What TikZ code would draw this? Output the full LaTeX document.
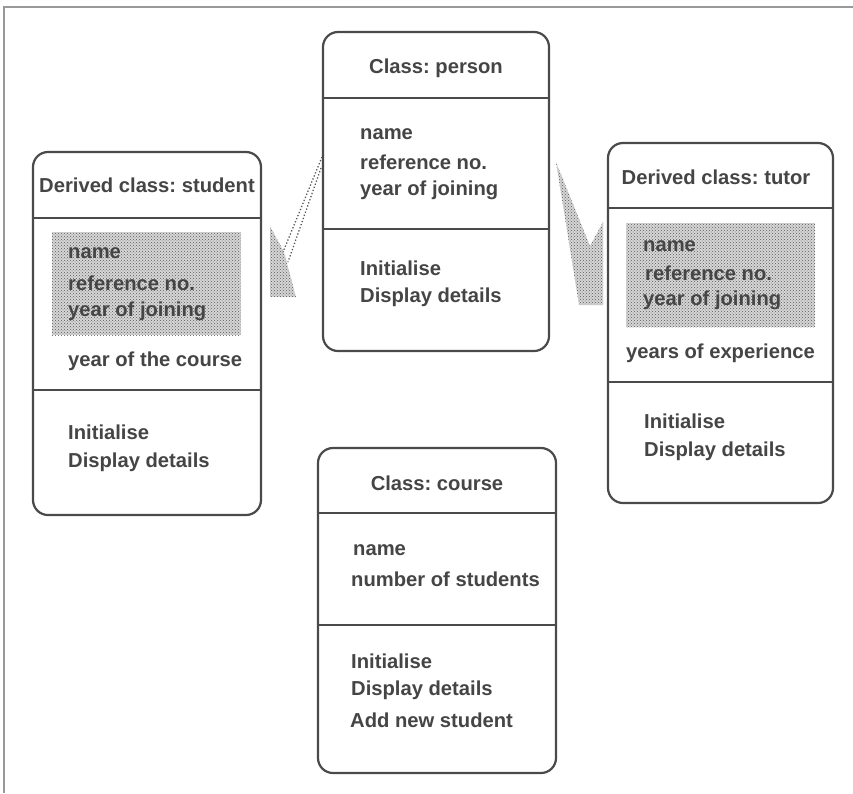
\documentclass[tikz,border=0pt]{standalone}
\usepackage{fontspec}
\setmainfont{Liberation Sans}
\usetikzlibrary{patterns}
\definecolor{ink}{HTML}{4A4A4A}
\definecolor{txt}{HTML}{454545}
\frenchspacing
\begin{document}
\begin{tikzpicture}[x=1pt,y=-1pt,
  classbox/.style={draw=ink, line width=2.2pt, rounded corners=15pt, inner sep=0pt, fill=white},
  divider/.style={draw=ink, line width=2pt},
  label/.style={anchor=west, inner sep=0pt, text=txt, font=\fontsize{20.2}{23}\selectfont\bfseries},
  title/.style={anchor=center, inner sep=0pt, text=txt, font=\fontsize{20.2}{23}\selectfont\bfseries},
  stipple/.style={pattern=crosshatch dots, pattern color=black!65},
  shade/.style={fill=gray!32},
  frame/.style={draw=gray!80, line width=1.4pt}]
\useasboundingbox (0,0) rectangle (853,793);
% page frame (top and left edges only)
\draw[frame] (4,793) -- (4,7) -- (853,7);

% inheritance arrows
\fill[shade] (270,226) -- (284,252) -- (296,297) -- (270,297) -- cycle;
\fill[stipple] (270,226) -- (284,252) -- (296,297) -- (270,297) -- cycle;
\draw[gray!70!black, line width=1.3pt, dotted] (322,157) -- (283,252);
\draw[gray!70!black, line width=1.3pt, dotted] (321,168) -- (288,262);
\fill[shade] (556,162) -- (590,246) -- (603,222) -- (603,305) -- (579,305) -- cycle;
\fill[stipple] (556,162) -- (590,246) -- (603,222) -- (603,305) -- (579,305) -- cycle;

% class boxes
\node[classbox, minimum width=226pt, minimum height=319pt] (person) at (436,191.5) {};
\node[classbox, minimum width=228pt, minimum height=363pt] (student) at (147,333.5) {};
\node[classbox, minimum width=225pt, minimum height=360pt] (tutor) at (720.5,323) {};
\node[classbox, minimum width=238pt, minimum height=325pt] (course) at (437,610.5) {};

% compartment dividers
\draw[divider] (person.west |- 0,98) -- (person.east |- 0,98);
\draw[divider] (person.west |- 0,229) -- (person.east |- 0,229);
\draw[divider] (student.west |- 0,218) -- (student.east |- 0,218);
\draw[divider] (student.west |- 0,390) -- (student.east |- 0,390);
\draw[divider] (tutor.west |- 0,208) -- (tutor.east |- 0,208);
\draw[divider] (tutor.west |- 0,382) -- (tutor.east |- 0,382);
\draw[divider] (course.west |- 0,513) -- (course.east |- 0,513);
\draw[divider] (course.west |- 0,625) -- (course.east |- 0,625);

% inherited attributes (shaded)
\fill[shade] (52,232) rectangle (241,335);
\fill[stipple] (52,232) rectangle (241,335);
\fill[shade] (626,223) rectangle (815,327);
\fill[stipple] (626,223) rectangle (815,327);

% person
\node[title] (pt) at (436,68) {Class: person};
\node[label] (p1) at (360,134) {name};
\node[label] (p2) at (360,162) {reference no.};
\node[label] (p3) at (360,190) {year of joining};
\node[label] (p4) at (360,268) {Initialise};
\node[label] (p5) at (360,297) {Display details};

% student
\node[title] (st) at (147,185) {Derived class: student};
\node[label] (s1) at (68,253) {name};
\node[label] (s2) at (68,283) {reference no.};
\node[label] (s3) at (68,311) {year of joining};
\node[label] (s4) at (68,361) {year of the course};
\node[label] (s5) at (68,432) {Initialise};
\node[label] (s6) at (68,462) {Display details};

% tutor
\node[title] (tt) at (716,177) {Derived class: tutor};
\node[label] (t1) at (643,246) {name};
\node[label] (t2) at (645,273) {reference no.};
\node[label] (t3) at (643,300) {year of joining};
\node[label] (t4) at (626,353) {years of experience};
\node[label] (t5) at (644,421) {Initialise};
\node[label] (t6) at (644,451) {Display details};

% course
\node[title] (ct) at (437,483) {Class: course};
\node[label] (c1) at (353,550) {name};
\node[label] (c2) at (351,579) {number of students};
\node[label] (c3) at (351,661) {Initialise};
\node[label] (c4) at (351,690) {Display details};
\node[label] (c5) at (350,720) {Add new student};
\end{tikzpicture}
\end{document}
